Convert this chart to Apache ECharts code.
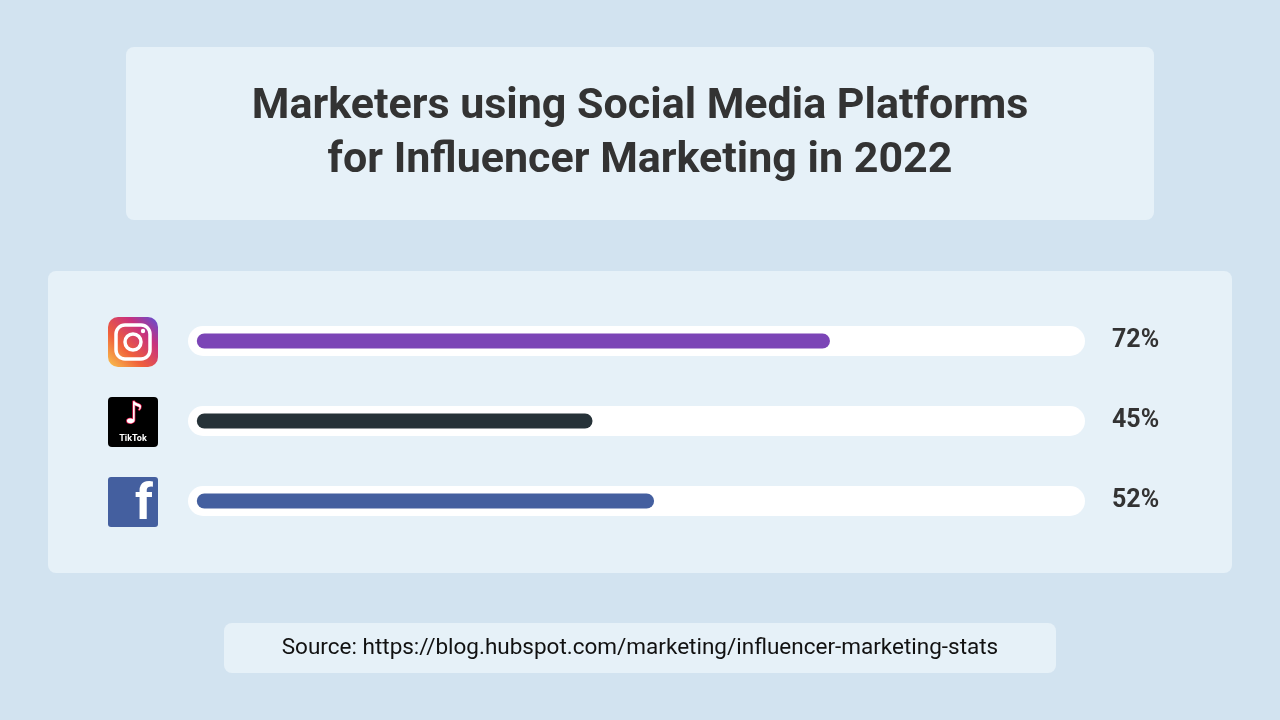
<!DOCTYPE html>
<html lang="en">
<head>
    <meta charset="UTF-8">
    <title>Influencer Marketing</title>
    <script src="https://cdn.jsdelivr.net/npm/echarts@6/dist/echarts.min.js"></script>
    <style>body{margin:0;background:#d2e3f0;}</style>
</head>
<body>
<div id="main" style="width:1280px;height:720px"></div>
<script>
    // data
    var platforms = ['Instagram', 'TikTok', 'Facebook'];
    var shares = [72, 45, 52];
    var barColors = ['#7b45b6', '#263238', '#445f9f'];

    var myChart = echarts.init(document.getElementById('main'));
    var font = 'Roboto';

    var option = {
        backgroundColor: '#d2e3f0',
        grid: {left: 188, right: 195, top: 301, height: 240},
        xAxis: {type: 'value', min: -1, max: 101, show: false},
        yAxis: {type: 'category', data: platforms, inverse: true, show: false},
        graphic: [
            {type: 'rect', shape: {x: 126, y: 47, width: 1028, height: 173, r: 8}, style: {fill: '#e6f1f8'}, z: -10},
            {type: 'text', x: 640, y: 107, style: {text: 'Marketers using Social Media Platforms', font: 'bold 43px Roboto', fill: '#333333', align: 'center', verticalAlign: 'middle'}},
            {type: 'text', x: 640, y: 161, style: {text: 'for Influencer Marketing in 2022', font: 'bold 43px Roboto', fill: '#333333', align: 'center', verticalAlign: 'middle'}},
            {type: 'rect', shape: {x: 48, y: 271, width: 1184, height: 302, r: 8}, style: {fill: '#e6f1f8'}, z: -10},
            {type: 'rect', shape: {x: 224, y: 623, width: 832, height: 50, r: 8}, style: {fill: '#e6f1f8'}, z: -10},
            {type: 'text', x: 640, y: 648, style: {text: 'Source: https://blog.hubspot.com/marketing/influencer-marketing-stats', font: '22.5px Roboto', fill: '#111111', align: 'center', verticalAlign: 'middle'}},
            // instagram icon
            {type: 'rect', shape: {x: 108, y: 317, width: 50, height: 50, r: 10}, style: {
                fill: new echarts.graphic.LinearGradient(0, 1, 1, 0, [
                    {offset: 0, color: '#f9c54d'}, {offset: 0.35, color: '#f0603a'},
                    {offset: 0.7, color: '#c8317e'}, {offset: 1, color: '#5b51d8'}])}},
            {type: 'rect', shape: {x: 116, y: 325, width: 34, height: 34, r: 9}, style: {fill: 'none', stroke: '#fff', lineWidth: 3.5}},
            {type: 'circle', shape: {cx: 133, cy: 342, r: 8}, style: {fill: 'none', stroke: '#fff', lineWidth: 3.5}},
            {type: 'circle', shape: {cx: 143, cy: 331, r: 2.2}, style: {fill: '#fff'}},
            // tiktok icon
            {type: 'rect', shape: {x: 108, y: 397, width: 50, height: 50, r: 4}, style: {fill: '#000'}},
            {type: 'text', x: 134, y: 415, style: {text: '♪', font: 'bold 30px DejaVu Sans', fill: '#ffffff', stroke: '#ee1d52', lineWidth: 1.5, align: 'center', verticalAlign: 'middle'}},
            {type: 'text', x: 133, y: 439, style: {text: 'TikTok', font: 'bold 9px Roboto', fill: '#fff', align: 'center', verticalAlign: 'middle'}},
            // facebook icon
            {type: 'rect', shape: {x: 108, y: 477, width: 50, height: 50, r: 3}, style: {fill: '#445f9f'}},
            {type: 'text', x: 144, y: 506, style: {text: 'f', font: 'bold 50px Roboto', fill: '#fff', align: 'center', verticalAlign: 'middle'}}
        ],
        series: [
            {
                // white track behind each bar, from -1 to 101 on the value axis
                type: 'custom',
                silent: true,
                data: platforms.map(function (p, i) { return [i]; }),
                renderItem: function (params, api) {
                    var idx = api.value(0);
                    var a = api.coord([-1, idx]);
                    var b = api.coord([101, idx]);
                    return {
                        type: 'group',
                        children: [
                            {type: 'rect', shape: {x: a[0], y: a[1] - 15, width: b[0] - a[0], height: 30, r: 15}, style: {fill: '#ffffff'}},
                            {type: 'text', x: b[0] + 27, y: b[1], style: {
                                text: shares[params.dataIndex] + '%', font: 'bold 25px Roboto', fill: '#333333', verticalAlign: 'middle'}}
                        ]
                    };
                },
                z: 1
            },
            {
                type: 'bar',
                data: shares.map(function (v, i) { return {value: v, itemStyle: {color: barColors[i]}}; }),
                barWidth: 15,
                itemStyle: {borderRadius: 8},
                z: 2
            }
        ]
    };
    myChart.setOption(option);
</script>
</body>
</html>
